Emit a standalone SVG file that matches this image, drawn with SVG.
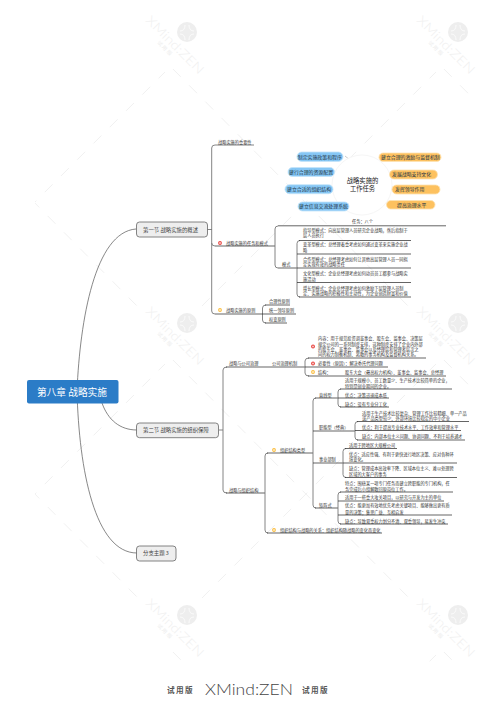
<svg xmlns="http://www.w3.org/2000/svg" width="497" height="702" viewBox="0 0 497 702">
<style>
text{font-family:"Noto Sans CJK SC","Noto Sans",sans-serif;fill:#333}
.t{font-size:4.2px}
.sec{font-size:5.4px;fill:#444}
.root{font-size:9.7px;fill:#fff}
.pill{font-size:4.9px;fill:#234}
.ctr{font-size:6.3px;text-anchor:middle;fill:#222}
.box{fill:#eee;stroke:#666;stroke-width:.8}
.b{fill:#86c7f5;stroke:#c4e3f9;stroke-width:.8}
.o{fill:#fdc15f;stroke:#fde2b3;stroke-width:.8}
.curve{fill:none;stroke:#555;stroke-width:.7}
.ln{fill:none;stroke:#222;stroke-width:.7}
.sp{fill:none;stroke:#777;stroke-width:.9}
.ar{fill:none;stroke:#bbb;stroke-width:.8;marker-end:url(#ah)}
.wl{stroke:#f1f1f1;stroke-width:1;stroke-dasharray:11 12;fill:none}
.wt{font-family:Lato,"Open Sans",sans-serif;font-size:12.5px;fill:#f0f0f0;font-weight:300}
.wc{font-size:5px;fill:#ececec;letter-spacing:1.5px}
.ft{font-size:7.6px;fill:#555;font-weight:700;letter-spacing:1.4px}
.r{fill:#e8413c}.y{fill:#fbbc3a}
</style>
<defs>
<marker id="ah" markerWidth="4" markerHeight="4" refX="3" refY="2" orient="auto"><path d="M0,0L3,2L0,4z" fill="#bbb"/></marker>
<clipPath id="wc"><rect x="35" y="16" width="437" height="650"/></clipPath>
<g id="wlines"><path class="wl" d="M15,-17L249,-251"/><path class="wl" d="M-14,37L223,276"/></g>
<g id="wicon"><circle r="10" fill="#eeeeee"/><path d="M-7,-1Q-2,-1 -2,-7M7,-1Q2,-1 2,-7M-7,2Q-2,2 -2,8M7,2Q2,2 2,8" fill="none" stroke="#fff" stroke-width=".7"/></g>
</defs>
<g id="watermark">
<g clip-path="url(#wc)">
<use href="#wlines" x="-84" y="32"/><use href="#wlines" x="187" y="32"/><use href="#wlines" x="458" y="32"/>
<use href="#wlines" x="-84" y="323"/><use href="#wlines" x="187" y="323"/><use href="#wlines" x="458" y="323"/>
<use href="#wlines" x="-84" y="615"/><use href="#wlines" x="187" y="615"/><use href="#wlines" x="458" y="615"/>
<use href="#wlines" x="187" y="906"/><use href="#wlines" x="458" y="906"/>
</g>
<use href="#wicon" x="187" y="32"/><use href="#wicon" x="458" y="32"/><use href="#wicon" x="187" y="323"/><use href="#wicon" x="458" y="323"/><use href="#wicon" x="187" y="615"/><use href="#wicon" x="458" y="615"/>
<text class="wt" transform="translate(145,21) rotate(45)" textLength="76" lengthAdjust="spacingAndGlyphs">XMind:ZEN</text>
<text class="wt" transform="translate(416,21) rotate(45)" textLength="76" lengthAdjust="spacingAndGlyphs">XMind:ZEN</text>
<text class="wt" transform="translate(145,312) rotate(45)" textLength="76" lengthAdjust="spacingAndGlyphs">XMind:ZEN</text>
<text class="wt" transform="translate(416,312) rotate(45)" textLength="76" lengthAdjust="spacingAndGlyphs">XMind:ZEN</text>
<text class="wt" transform="translate(145,604) rotate(45)" textLength="76" lengthAdjust="spacingAndGlyphs">XMind:ZEN</text>
<text class="wt" transform="translate(416,604) rotate(45)" textLength="76" lengthAdjust="spacingAndGlyphs">XMind:ZEN</text>
<text class="wc" transform="translate(157,43) rotate(45)">试用版</text>
<text class="wc" transform="translate(428,43) rotate(45)">试用版</text>
<text class="wc" transform="translate(157,334) rotate(45)">试用版</text>
<text class="wc" transform="translate(428,334) rotate(45)">试用版</text>
<text class="wc" transform="translate(157,626) rotate(45)">试用版</text>
<text class="wc" transform="translate(428,626) rotate(45)">试用版</text>
</g>

<g id="connectors">
<path class="curve" d="M77,391C80,320 95,232 136,229"/>
<path class="curve" d="M102,403C108,420 120,430 137,430"/>
<path class="curve" d="M77,391C79,470 95,553 137,553"/>
<path class="sp" d="M207,229.5H212M219,430H223"/>
<path class="sp" d="M254,145H215Q211.7,145 211.7,148V311Q211.7,314 215,314"/>
<path class="ln" d="M215,246H275M215,314H262"/>
<path class="sp" d="M211.7,243Q211.7,246 215,246"/>
<path class="sp" d="M278,226Q275,226 275,229V265Q275,268 278,268"/>
<path class="ln" d="M278,225.8H446M278,268H297"/>
<path class="sp" d="M300,240.5Q297,240.5 297,243.5V294Q297,297 300,297"/>
<path class="ln" d="M299,240.5H411M297,254H411M297,268H411M297,282.5H411M299,297H411"/>
<path class="sp" d="M266,305Q262.5,305 262.5,308V320Q262.5,323 266,323"/>
<path class="ln" d="M265,305H290M262,314H296M265,323H287"/>
<path class="sp" d="M227,367Q223,367 223,370V490Q223,493 227,493"/>
<path class="ln" d="M226,367H305M226,493H265"/>
<path class="sp" d="M309,358Q305,358 305,361V373Q305,376 309,376"/>
<path class="ln" d="M308,358H426M305,367H388M308,376H446"/>
<path class="sp" d="M268,453Q265,453 265,456V530Q265,533 268,533"/>
<path class="ln" d="M267,453H313M267,533H382"/>
<path class="sp" d="M316,398Q313,398 313,401V505Q313,508 316,508"/>
<path class="ln" d="M315,398H338M313,431H355M313,463H343M315,508H338"/>
<path class="sp" d="M341,389Q338,389 338,392V404Q338,407 341,407"/>
<path class="ln" d="M340,389H452M338,398H389M340,407H389"/>
<path class="sp" d="M358,421.5Q355,421.5 355,424.5V437Q355,440 358,440"/>
<path class="ln" d="M357,421.5H469M355,430.5H461M357,440H465"/>
<path class="sp" d="M346,448.5Q343,448.5 343,451.5V474.5Q343,477.5 346,477.5"/>
<path class="ln" d="M345,448.5H397M343,463H457M345,477.5H457"/>
<path class="sp" d="M341,492Q338,492 338,495V521Q338,524 341,524"/>
<path class="ln" d="M340,492H453M338,501H444M338,515H452M340,524H448"/>
<path class="ar" d="M345,156L350,160"/><path class="ar" d="M335,172L340,172"/><path class="ar" d="M333,189L338,186"/><path class="ar" d="M340,202L344,197"/>
<path class="ar" d="M380,163L376,166"/><path class="ar" d="M390,176L385,179"/><path class="ar" d="M390,190L385,190"/><path class="ar" d="M386,203L381,200"/>
</g>

<g id="root"><rect x="27" y="380" width="91.500" height="23.500" rx="2" fill="#2b7cc7"/><text class="root" x="37" y="395.500">第八章 战略实施</text></g>
<g id="sec1"><rect class="box" x="136.500" y="222" width="71" height="15" rx="3"/><text class="sec" x="143" y="231.500">第一节 战略实施的概述</text></g>
<g id="sec2"><rect class="box" x="136.500" y="423" width="82" height="14.700" rx="3"/><text class="sec" x="143" y="432">第二节 战略实施的组织保障</text></g>
<g id="sec3"><rect class="box" x="136.500" y="546" width="39.500" height="15" rx="3"/><text class="sec" x="143" y="555">分支主题 3</text></g>

<g id="n-importance"><text class="t" x="218" y="143.500">战略实施的重要性</text></g>
<g id="n-mode"><circle class="r" cx="220" cy="243" r="1.900"/><ellipse cx="220" cy="243" rx=".7" ry="1.100" fill="#fff"/><text class="t" x="226" y="244.500">战略实施的任务和模式</text></g>
<g id="n-principle"><circle class="y" cx="220" cy="310" r="1.900"/><ellipse cx="220" cy="310" rx=".7" ry="1.100" fill="#fff"/><text class="t" x="226" y="311.500">战略实施的原则</text></g>

<g id="map">
<circle cx="362" cy="185" r="30" fill="#fff" stroke="#f6f6f6"/>
<text class="ctr" x="362.500" y="182.500">战略实施的</text><text class="ctr" x="362.500" y="190.500">工作任务</text>
<rect class="b" x="297" y="152" width="46" height="9.500" rx="4.700"/><text class="pill" x="297.800" y="158.600">制定实施政策和程序</text>
<rect class="b" x="288" y="167.500" width="46.500" height="9" rx="4.500"/><text class="pill" x="289" y="173.800">建行合理的资源配置</text>
<rect class="b" x="285" y="184.700" width="48" height="9" rx="4.500"/><text class="pill" x="287" y="191">建立合适的组织结构</text>
<rect class="b" x="298" y="202" width="51" height="9" rx="4.500"/><text class="pill" x="299" y="208.400">建立信息交流处理系统</text>
<rect class="o" x="379" y="153" width="62" height="8.500" rx="4.200"/><text class="pill" x="381" y="159.300">建立合理的激励与监督机制</text>
<rect class="o" x="389.500" y="170" width="48" height="9" rx="4.500"/><text class="pill" x="392" y="176.300">发展战略支持文化</text>
<rect class="o" x="392" y="185" width="48" height="9" rx="4.500"/><text class="pill" x="395" y="191.300">发挥领导作用</text>
<rect class="o" x="386.500" y="200.500" width="48.500" height="8.500" rx="4.200"/><text class="pill" x="397" y="206.800">提高治理水平</text>
</g>

<g id="n-models">
<text class="t" x="352" y="222.500">任务：八个</text>
<text class="t" x="282" y="265.500">模式</text>
<text class="t" x="303" y="231.500">指导型模式：向高层管理人员研究企业战略，然后指制于</text><text class="t" x="303" y="236.500">层人员执行</text>
<text class="t" x="303" y="245.500">变革型模式：总经理着重考虑如何通过变革来实施企业战</text><text class="t" x="303" y="251.500">略</text>
<text class="t" x="303" y="260.500">合作型模式：总经理考虑如何让其他高层管理人员一同拟</text><text class="t" x="303" y="265.500">定实现有效的战略责任</text>
<text class="t" x="303" y="274.500">文化型模式：企业总经理考虑如何动员员工都参与战略实</text><text class="t" x="303" y="280.500">施活动</text>
<text class="t" x="303" y="289.500">增长型模式：企业总经理考虑如何激励下层管理人员制</text><text class="t" x="303" y="294.500">定、实施战略的积极性和主动性，为企业创造财富和价值</text>
</g>
<g id="n-principles">
<text class="t" x="269" y="302.500">合理性原则</text><text class="t" x="269" y="311.500">统一领导原则</text><text class="t" x="269" y="320.500">权变原则</text>
</g>
<g id="n-gov">
<text class="t" x="229" y="364.500">战略与公司治理</text><text class="t" x="272" y="364.500">公司治理机制</text>
<circle class="r" cx="313" cy="346.500" r="1.900"/><ellipse cx="313" cy="346.500" rx=".7" ry="1.100" fill="#fff"/>
<text class="t" x="318" y="339.900">内容：用于规范投资调董事会、股东会、监事会、决策层</text>
<text class="t" x="318" y="345.500">规定公司的一系列制度安排，这种制度安排了企业内外部</text>
<text class="t" x="318" y="350.500">的股东会、董事会、监事会以及经理层和管理者层次之</text>
<text class="t" x="318" y="355.500">间的权力制衡机制、离散的事务机构及监督机构关系。</text>
<circle class="r" cx="313" cy="363.500" r="1.900"/><ellipse cx="313" cy="363.500" rx=".7" ry="1.100" fill="#fff"/>
<text class="t" x="318" y="365">必要性（原因）：解决委托代理问题</text>
<circle class="y" cx="313" cy="372" r="1.900"/><ellipse cx="313" cy="372" rx=".7" ry="1.100" fill="#fff"/>
<text class="t" x="318" y="373.500">结构：</text><text class="t" x="345" y="373.500">股东大会（最高权力机构）、董事会、监事会、总经理</text>
</g>
<g id="n-org">
<text class="t" x="229" y="491.500">战略与组织结构</text>
<circle class="y" cx="274" cy="450" r="1.900"/><ellipse cx="274" cy="450" rx=".7" ry="1.100" fill="#fff"/>
<text class="t" x="280" y="451.500">组织结构类型</text>
<circle class="y" cx="274" cy="530" r="1.900"/><ellipse cx="274" cy="530" rx=".7" ry="1.100" fill="#fff"/>
<text class="t" x="280" y="531.500">组织结构与战略的关系：组织结构随战略的变化而变化</text>
</g>
<g id="n-line">
<text class="t" x="319" y="396.500">直线型</text>
<text class="t" x="345" y="381.500">适用于规模小、员工数量少、生产技术比较简单的企业，</text><text class="t" x="345" y="387.500">特别是创业期间的企业。</text>
<text class="t" x="345" y="396.500">优点：决策迅速成本低</text><text class="t" x="345" y="405.500">缺点：没有专业分工化</text>
</g>
<g id="n-func">
<text class="t" x="319" y="428.500">职能型（经典）</text>
<text class="t" x="362" y="414.500">适用于生产技术比较复杂、管理工作比较精细、单一产品</text><text class="t" x="362" y="419.500">或产品类型较少、外部环境比较稳定的中小企业</text>
<text class="t" x="362" y="428.500">优点：利于提高专业技术水平、工作效率和管理水平</text><text class="t" x="362" y="437.500">缺点：内部本位主义问题、协调问题、不利于培养通才</text>
</g>
<g id="n-div">
<text class="t" x="319" y="461">事业部制</text>
<text class="t" x="349" y="446.500">适用于跨地区大规模公司</text>
<text class="t" x="349" y="455.500">优点：适应性强、有利于更快进行地区决策、应对各种环</text><text class="t" x="349" y="461">境变化。</text>
<text class="t" x="349" y="470">缺点：管理成本高效率下降、区域本位主义、难以处理跨</text><text class="t" x="349" y="475.500">区域的大客户的事务</text>
</g>
<g id="n-matrix">
<text class="t" x="319" y="506.500">矩阵式</text>
<text class="t" x="345" y="484.500">特点：围绕某一项专门任务而建立跨职能的专门机构，任</text><text class="t" x="345" y="490.500">务完成后小组解散回原岗位工作。</text>
<text class="t" x="345" y="499">适用于一些重大攻关项目，以研究与开发为主的单位</text>
<text class="t" x="345" y="507">优点：能更加有效地优先考虑关键项目、能够做出更有质</text><text class="t" x="345" y="513.500">量的决策；集思广益、互相启发</text>
<text class="t" x="345" y="522.500">缺点：导致双重权力划分不清、双重领导，易发生冲突</text>
</g>
<g id="footer">
<text class="ft" x="167" y="693">试用版</text>
<text x="205" y="695" font-size="15" textLength="88" lengthAdjust="spacingAndGlyphs" style="font-family:Lato,'Open Sans',sans-serif;font-weight:300;fill:#444">XMind:ZEN</text>
<text class="ft" x="302" y="693">试用版</text>
</g>
</svg>
